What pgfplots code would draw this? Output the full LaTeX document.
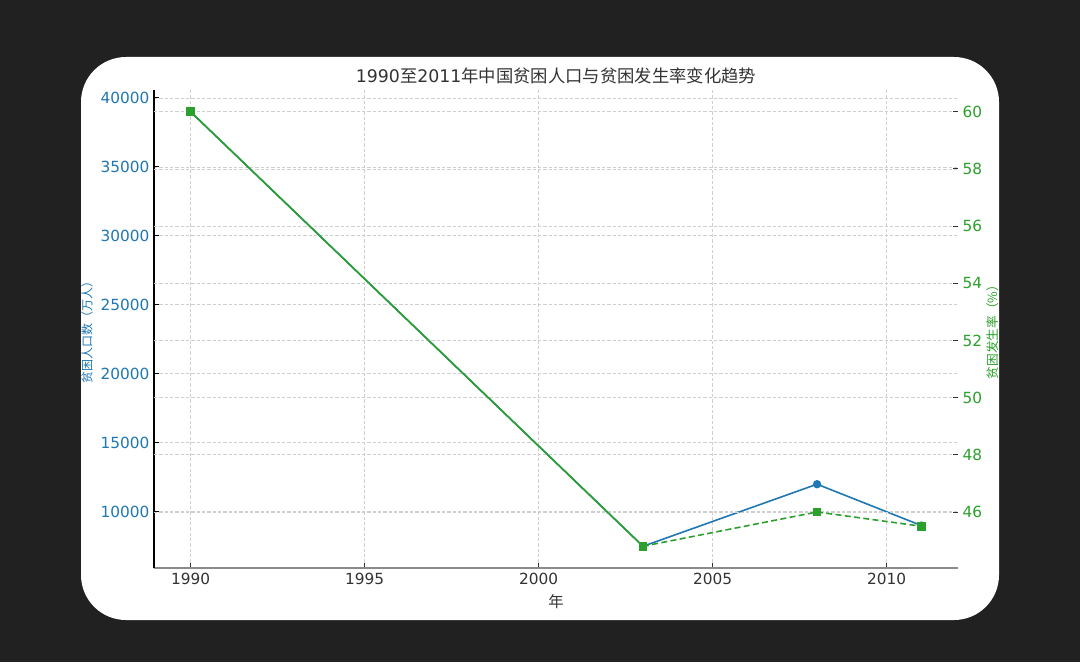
\documentclass[border=0pt]{standalone}
\usepackage{pgfplots}
\pgfplotsset{compat=1.18}
\usepackage{fontspec}
\setmainfont{DejaVu Sans}
\newfontfamily\cjk{Noto Sans CJK SC}
\definecolor{bg}{HTML}{212121}
\definecolor{mblue}{HTML}{1F77B4}
\definecolor{mgreen}{HTML}{2CA02C}
\definecolor{gridc}{HTML}{CFCFCF}
\definecolor{txt}{HTML}{333333}
\definecolor{spinegray}{HTML}{8A8A8A}

\pgfplotsset{
  common/.style={
    at={(115.5pt,70.5pt)}, anchor=south west,
    width=603pt, height=358.5pt, scale only axis,
    xmin=1988.95, xmax=2012.05,
    scaled ticks=false,
    /pgf/number format/assume math mode=true,
    /pgf/number format/1000 sep={},
    tick align=inside,
    major tick length=3.75pt,
    major grid style={gridc, line width=0.6pt, dash pattern=on 2.6pt off 1.4pt},
    ticklabel style={font=\fontsize{11.5}{13}\selectfont},
    clip=false,
  }
}

\begin{document}
\begin{tikzpicture}
\fill[bg] (0pt,0pt) rectangle (810pt,496.5pt);
\fill[white,rounded corners=33.75pt] (60.75pt,31.5pt) rectangle (749.25pt,453.75pt);

\begin{axis}[
  common,
  ymin=5925, ymax=40575,
  axis x line*=bottom, axis y line*=left,
  x axis line style={-, draw=spinegray, line width=1.1pt},
  y axis line style={-, draw=black, line width=1.1pt},
  xtick={1990,1995,2000,2005,2010},
  ytick={10000,15000,20000,25000,30000,35000,40000},
  xmajorgrids, ymajorgrids,
  xtick style={draw=txt, line width=0.7pt},
  ytick style={draw=black, line width=0.7pt},
  xticklabel style={text=txt},
  yticklabel style={text=mblue},
  xlabel={\cjk 年},
  xlabel style={text=txt, font=\fontsize{11.5}{13}\selectfont, at={(axis description cs:0.5,-0.071)}, anchor=center},
  ylabel={\cjk 贫困人口数（万人）},
  ylabel style={text=mblue, font=\fontsize{9}{11}\selectfont, at={(axis description cs:-0.0833,0.5)}, anchor=center},
  title={1990{\cjk 至}2011{\cjk 年中国贫困人口与贫困发生率变化趋势}},
  title style={text=txt, font=\fontsize{13}{15}\selectfont, at={(axis description cs:0.5,1.012)}, anchor=center},
]
\addplot[mblue, line width=1.2pt, mark=*, mark size=2.5pt, mark options={fill=mblue, draw=mblue}]
  coordinates {(1990,39000) (2003,7500) (2008,12000) (2011,9000)};
\end{axis}

\begin{axis}[
  common,
  ymin=44.04, ymax=60.76,
  axis x line=none, axis y line*=right,
  y axis line style={-, draw=none},
  ytick={46,48,50,52,54,56,58,60},
  ymajorgrids,
  ytick style={draw=txt, line width=0.7pt},
  yticklabel style={text=mgreen},
  ylabel={\cjk 贫困发生率（\%）},
  ylabel style={text=mgreen, font=\fontsize{9.5}{11}\selectfont, at={(axis description cs:1.0435,0.5)}, anchor=center},
]
\addplot[mgreen, line width=1.2pt, mark=square*, mark size=2.6pt, mark options={fill=mgreen, draw=mgreen, solid}]
  coordinates {(1990,60) (2003,44.8)};
\addplot[mgreen, line width=1.2pt, dash pattern=on 4.5pt off 2.5pt, mark=square*, mark size=2.6pt, mark options={fill=mgreen, draw=mgreen, solid}]
  coordinates {(2003,44.8) (2008,46) (2011,45.5)};
\end{axis}
\end{tikzpicture}
\end{document}
